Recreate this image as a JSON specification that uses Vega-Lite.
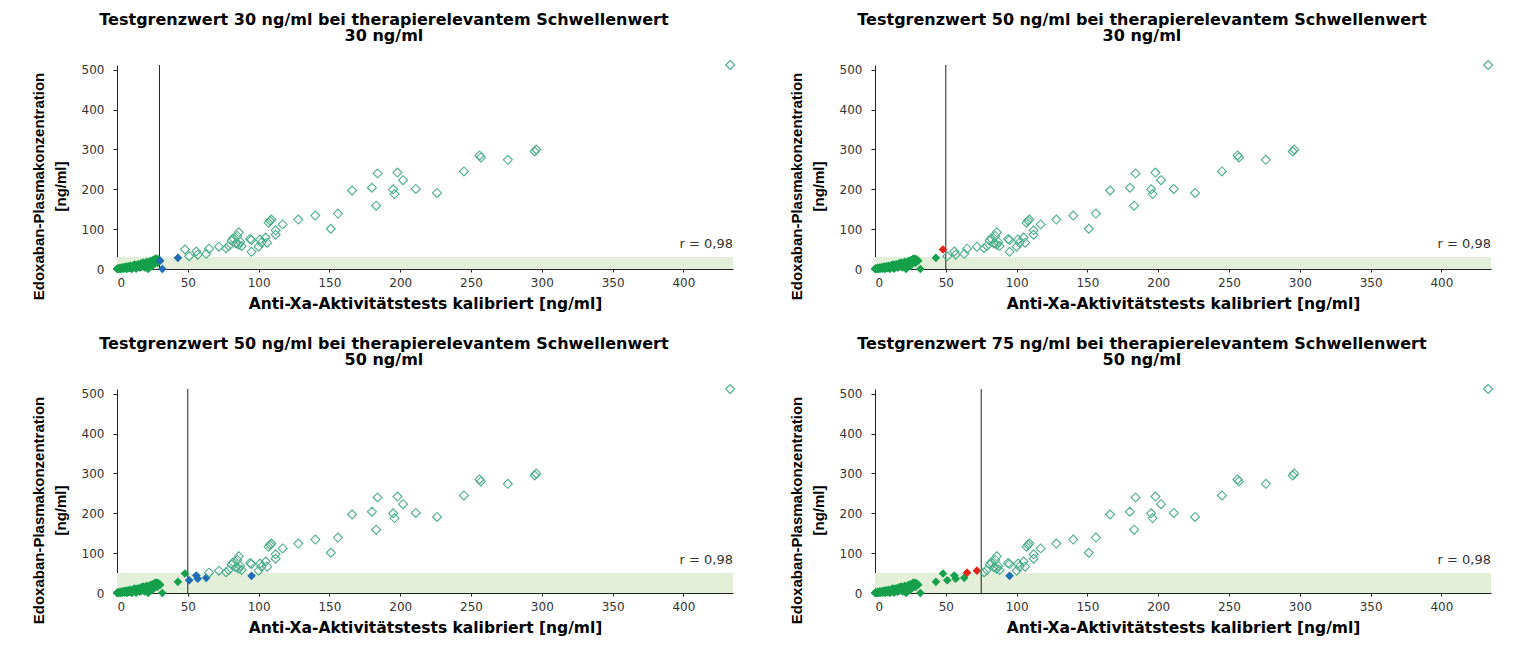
{
  "$schema": "https://vega.github.io/schema/vega-lite/v6.json",
  "background": "white",
  "padding": {"left": 31, "top": 12, "right": 5, "bottom": 5},
  "datasets": {
    "pts": [
      {"x":0,"y":0},{"x":0.5,"y":2},{"x":1,"y":0},{"x":1.5,"y":1},{"x":2,"y":3},{"x":2.5,"y":0},{"x":3,"y":1.5},{"x":3.5,"y":4},{"x":4,"y":0.5},{"x":4.5,"y":2.5},
      {"x":5,"y":5},{"x":5.5,"y":1},{"x":6,"y":3},{"x":6.5,"y":6},{"x":7,"y":0},{"x":7.5,"y":4},{"x":8,"y":7},{"x":8.5,"y":2},{"x":9,"y":5},{"x":9.5,"y":8},
      {"x":10,"y":3},{"x":10.5,"y":0},{"x":11,"y":6},{"x":11.5,"y":9},{"x":12,"y":4},{"x":12.5,"y":11},{"x":13,"y":7},{"x":13.5,"y":1},{"x":14,"y":10},{"x":14.5,"y":5},
      {"x":15,"y":12},{"x":15.5,"y":8},{"x":16,"y":3},{"x":16.5,"y":11},{"x":17,"y":14},{"x":17.5,"y":6},{"x":18,"y":10},{"x":18.5,"y":16},{"x":19,"y":12},{"x":19.5,"y":4},
      {"x":20,"y":15},{"x":20.5,"y":9},{"x":21,"y":18},{"x":21.5,"y":13},{"x":22,"y":0},{"x":22.5,"y":16},{"x":23,"y":11},{"x":23.5,"y":20},{"x":24,"y":15},{"x":24.5,"y":7},
      {"x":25,"y":22},{"x":25.5,"y":18},{"x":26,"y":12},{"x":26.5,"y":24},{"x":27,"y":19},{"x":27.5,"y":26},{"x":28,"y":22},{"x":28.5,"y":15},{"x":29,"y":25},{"x":29.5,"y":20},
      {"x":30.5,"y":21},{"x":32,"y":0},{"x":43,"y":28},{"x":48,"y":49},{"x":51,"y":32},{"x":56,"y":44},{"x":57,"y":36},{"x":63,"y":38},{"x":65,"y":51},{"x":72,"y":56},{"x":95,"y":43},
      {"x":77,"y":52},{"x":79,"y":58},{"x":81,"y":71},{"x":82,"y":77},{"x":84,"y":64},{"x":85,"y":83},{"x":86,"y":61},{"x":86,"y":92},{"x":87,"y":68},{"x":88,"y":58},
      {"x":94,"y":75},{"x":95,"y":73},{"x":100,"y":56},{"x":101,"y":74},{"x":102,"y":66},{"x":105,"y":79},{"x":106,"y":66},{"x":107,"y":116},{"x":108,"y":121},{"x":109,"y":124},
      {"x":112,"y":86},{"x":112,"y":97},{"x":117,"y":112},{"x":128,"y":124},{"x":140,"y":134},{"x":151,"y":101},{"x":156,"y":139},{"x":166,"y":197},{"x":180,"y":204},{"x":183,"y":159},
      {"x":184,"y":240},{"x":195,"y":200},{"x":196,"y":188},{"x":198,"y":242},{"x":202,"y":223},{"x":211,"y":201},{"x":226,"y":191},{"x":245,"y":245},{"x":256,"y":285},{"x":257,"y":280},
      {"x":276,"y":274},{"x":295,"y":295},{"x":296,"y":300},{"x":433,"y":512}
    ]
  },
  "columns": 2,
  "spacing": {"row": 24, "column": 52},
  "concat": [
    {
      "width": 616, "height": 204,
      "title": {"text": ["Testgrenzwert 30 ng/ml bei therapierelevantem Schwellenwert", "30 ng/ml"]},
      "layer": [
        {"data": {"values": [{}]}, "mark": {"type": "rect", "color": "#e3efd9"},
         "encoding": {"x": {"datum": 0, "type": "quantitative", "scale": {"domain": [0, 435], "nice": false}}, "x2": {"datum": 435},
                      "y": {"datum": 0, "type": "quantitative", "scale": {"domain": [0, 512], "nice": false}}, "y2": {"datum": 30}}},
        {"data": {"values": [{}]}, "mark": {"type": "rule", "color": "#222", "strokeWidth": 1},
         "encoding": {"x": {"datum": 30, "type": "quantitative", "scale": {"domain": [0, 435], "nice": false}},
                      "y": {"datum": 0, "type": "quantitative", "scale": {"domain": [0, 512], "nice": false}}, "y2": {"datum": 512}}},
        {"data": {"name": "pts"},
         "mark": {"type": "point", "shape": "diamond", "filled": true, "opacity": 1, "strokeWidth": 1.1, "clip": false},
         "encoding": {
           "x": {"field": "x", "type": "quantitative", "scale": {"domain": [0, 435], "nice": false},
                 "axis": {"title": "Anti-Xa-Aktivitätstests  kalibriert [ng/ml]", "values": [0,25,50,75,100,125,150,175,200,225,250,275,300,325,350,375,400,425], "labelExpr": "datum.value % 50 === 0 ? datum.label : ''"}},
           "y": {"field": "y", "type": "quantitative", "scale": {"domain": [0, 512], "nice": false},
                 "axis": {"title": ["Edoxaban-Plasmakonzentration", "[ng/ml]"], "values": [0,50,100,150,200,250,300,350,400,450,500], "labelExpr": "datum.value % 100 === 0 ? datum.label : ''"}},
           "fill": {"condition": [{"test": "datum.x < 30 && datum.y < 30", "value": "#16a04c"}, {"test": "datum.x >= 30 && datum.y < 30", "value": "#1f6db4"}, {"test": "datum.x < 30 && datum.y >= 30", "value": "#e1251b"}], "value": "transparent"},
           "stroke": {"condition": [{"test": "datum.x < 30 && datum.y < 30", "value": "#16a04c"}, {"test": "datum.x >= 30 && datum.y < 30", "value": "#1f6db4"}, {"test": "datum.x < 30 && datum.y >= 30", "value": "#e1251b"}], "value": "#4aae88"},
           "size": {"condition": {"test": "datum.x >= 30 && datum.y >= 30", "value": 80}, "value": 50}
         }},
        {"data": {"values": [{}]}, "mark": {"type": "text", "text": "r = 0,98", "align": "right", "baseline": "bottom", "font": "DejaVu Sans", "fontSize": 13, "color": "#333"},
         "encoding": {"x": {"datum": 435, "type": "quantitative", "scale": {"domain": [0, 435], "nice": false}},
                      "y": {"datum": 45, "type": "quantitative", "scale": {"domain": [0, 512], "nice": false}}}}
      ]
    },
    {
      "width": 616, "height": 204,
      "title": {"text": ["Testgrenzwert 50 ng/ml bei therapierelevantem Schwellenwert", "30 ng/ml"]},
      "layer": [
        {"data": {"values": [{}]}, "mark": {"type": "rect", "color": "#e3efd9"},
         "encoding": {"x": {"datum": 0, "type": "quantitative", "scale": {"domain": [0, 435], "nice": false}}, "x2": {"datum": 435},
                      "y": {"datum": 0, "type": "quantitative", "scale": {"domain": [0, 512], "nice": false}}, "y2": {"datum": 30}}},
        {"data": {"values": [{}]}, "mark": {"type": "rule", "color": "#222", "strokeWidth": 1},
         "encoding": {"x": {"datum": 50, "type": "quantitative", "scale": {"domain": [0, 435], "nice": false}},
                      "y": {"datum": 0, "type": "quantitative", "scale": {"domain": [0, 512], "nice": false}}, "y2": {"datum": 512}}},
        {"data": {"name": "pts"},
         "mark": {"type": "point", "shape": "diamond", "filled": true, "opacity": 1, "strokeWidth": 1.1, "clip": false},
         "encoding": {
           "x": {"field": "x", "type": "quantitative", "scale": {"domain": [0, 435], "nice": false},
                 "axis": {"title": "Anti-Xa-Aktivitätstests  kalibriert [ng/ml]", "values": [0,25,50,75,100,125,150,175,200,225,250,275,300,325,350,375,400,425], "labelExpr": "datum.value % 50 === 0 ? datum.label : ''"}},
           "y": {"field": "y", "type": "quantitative", "scale": {"domain": [0, 512], "nice": false},
                 "axis": {"title": ["Edoxaban-Plasmakonzentration", "[ng/ml]"], "values": [0,50,100,150,200,250,300,350,400,450,500], "labelExpr": "datum.value % 100 === 0 ? datum.label : ''"}},
           "fill": {"condition": [{"test": "datum.x < 50 && datum.y < 30", "value": "#16a04c"}, {"test": "datum.x >= 50 && datum.y < 30", "value": "#1f6db4"}, {"test": "datum.x < 50 && datum.y >= 30", "value": "#e1251b"}], "value": "transparent"},
           "stroke": {"condition": [{"test": "datum.x < 50 && datum.y < 30", "value": "#16a04c"}, {"test": "datum.x >= 50 && datum.y < 30", "value": "#1f6db4"}, {"test": "datum.x < 50 && datum.y >= 30", "value": "#e1251b"}], "value": "#4aae88"},
           "size": {"condition": {"test": "datum.x >= 50 && datum.y >= 30", "value": 80}, "value": 50}
         }},
        {"data": {"values": [{}]}, "mark": {"type": "text", "text": "r = 0,98", "align": "right", "baseline": "bottom", "font": "DejaVu Sans", "fontSize": 13, "color": "#333"},
         "encoding": {"x": {"datum": 435, "type": "quantitative", "scale": {"domain": [0, 435], "nice": false}},
                      "y": {"datum": 45, "type": "quantitative", "scale": {"domain": [0, 512], "nice": false}}}}
      ]
    },
    {
      "width": 616, "height": 204,
      "title": {"text": ["Testgrenzwert 50 ng/ml bei therapierelevantem Schwellenwert", "50 ng/ml"]},
      "layer": [
        {"data": {"values": [{}]}, "mark": {"type": "rect", "color": "#e3efd9"},
         "encoding": {"x": {"datum": 0, "type": "quantitative", "scale": {"domain": [0, 435], "nice": false}}, "x2": {"datum": 435},
                      "y": {"datum": 0, "type": "quantitative", "scale": {"domain": [0, 512], "nice": false}}, "y2": {"datum": 50}}},
        {"data": {"values": [{}]}, "mark": {"type": "rule", "color": "#222", "strokeWidth": 1},
         "encoding": {"x": {"datum": 50, "type": "quantitative", "scale": {"domain": [0, 435], "nice": false}},
                      "y": {"datum": 0, "type": "quantitative", "scale": {"domain": [0, 512], "nice": false}}, "y2": {"datum": 512}}},
        {"data": {"name": "pts"},
         "mark": {"type": "point", "shape": "diamond", "filled": true, "opacity": 1, "strokeWidth": 1.1, "clip": false},
         "encoding": {
           "x": {"field": "x", "type": "quantitative", "scale": {"domain": [0, 435], "nice": false},
                 "axis": {"title": "Anti-Xa-Aktivitätstests  kalibriert [ng/ml]", "values": [0,25,50,75,100,125,150,175,200,225,250,275,300,325,350,375,400,425], "labelExpr": "datum.value % 50 === 0 ? datum.label : ''"}},
           "y": {"field": "y", "type": "quantitative", "scale": {"domain": [0, 512], "nice": false},
                 "axis": {"title": ["Edoxaban-Plasmakonzentration", "[ng/ml]"], "values": [0,50,100,150,200,250,300,350,400,450,500], "labelExpr": "datum.value % 100 === 0 ? datum.label : ''"}},
           "fill": {"condition": [{"test": "datum.x < 50 && datum.y < 50", "value": "#16a04c"}, {"test": "datum.x >= 50 && datum.y < 50", "value": "#1f6db4"}, {"test": "datum.x < 50 && datum.y >= 50", "value": "#e1251b"}], "value": "transparent"},
           "stroke": {"condition": [{"test": "datum.x < 50 && datum.y < 50", "value": "#16a04c"}, {"test": "datum.x >= 50 && datum.y < 50", "value": "#1f6db4"}, {"test": "datum.x < 50 && datum.y >= 50", "value": "#e1251b"}], "value": "#4aae88"},
           "size": {"condition": {"test": "datum.x >= 50 && datum.y >= 50", "value": 80}, "value": 50}
         }},
        {"data": {"values": [{}]}, "mark": {"type": "text", "text": "r = 0,98", "align": "right", "baseline": "bottom", "font": "DejaVu Sans", "fontSize": 13, "color": "#333"},
         "encoding": {"x": {"datum": 435, "type": "quantitative", "scale": {"domain": [0, 435], "nice": false}},
                      "y": {"datum": 65, "type": "quantitative", "scale": {"domain": [0, 512], "nice": false}}}}
      ]
    },
    {
      "width": 616, "height": 204,
      "title": {"text": ["Testgrenzwert 75 ng/ml bei therapierelevantem Schwellenwert", "50 ng/ml"]},
      "layer": [
        {"data": {"values": [{}]}, "mark": {"type": "rect", "color": "#e3efd9"},
         "encoding": {"x": {"datum": 0, "type": "quantitative", "scale": {"domain": [0, 435], "nice": false}}, "x2": {"datum": 435},
                      "y": {"datum": 0, "type": "quantitative", "scale": {"domain": [0, 512], "nice": false}}, "y2": {"datum": 50}}},
        {"data": {"values": [{}]}, "mark": {"type": "rule", "color": "#222", "strokeWidth": 1},
         "encoding": {"x": {"datum": 75, "type": "quantitative", "scale": {"domain": [0, 435], "nice": false}},
                      "y": {"datum": 0, "type": "quantitative", "scale": {"domain": [0, 512], "nice": false}}, "y2": {"datum": 512}}},
        {"data": {"name": "pts"},
         "mark": {"type": "point", "shape": "diamond", "filled": true, "opacity": 1, "strokeWidth": 1.1, "clip": false},
         "encoding": {
           "x": {"field": "x", "type": "quantitative", "scale": {"domain": [0, 435], "nice": false},
                 "axis": {"title": "Anti-Xa-Aktivitätstests  kalibriert [ng/ml]", "values": [0,25,50,75,100,125,150,175,200,225,250,275,300,325,350,375,400,425], "labelExpr": "datum.value % 50 === 0 ? datum.label : ''"}},
           "y": {"field": "y", "type": "quantitative", "scale": {"domain": [0, 512], "nice": false},
                 "axis": {"title": ["Edoxaban-Plasmakonzentration", "[ng/ml]"], "values": [0,50,100,150,200,250,300,350,400,450,500], "labelExpr": "datum.value % 100 === 0 ? datum.label : ''"}},
           "fill": {"condition": [{"test": "datum.x < 75 && datum.y < 50", "value": "#16a04c"}, {"test": "datum.x >= 75 && datum.y < 50", "value": "#1f6db4"}, {"test": "datum.x < 75 && datum.y >= 50", "value": "#e1251b"}], "value": "transparent"},
           "stroke": {"condition": [{"test": "datum.x < 75 && datum.y < 50", "value": "#16a04c"}, {"test": "datum.x >= 75 && datum.y < 50", "value": "#1f6db4"}, {"test": "datum.x < 75 && datum.y >= 50", "value": "#e1251b"}], "value": "#4aae88"},
           "size": {"condition": {"test": "datum.x >= 75 && datum.y >= 50", "value": 80}, "value": 50}
         }},
        {"data": {"values": [{}]}, "mark": {"type": "text", "text": "r = 0,98", "align": "right", "baseline": "bottom", "font": "DejaVu Sans", "fontSize": 13, "color": "#333"},
         "encoding": {"x": {"datum": 435, "type": "quantitative", "scale": {"domain": [0, 435], "nice": false}},
                      "y": {"datum": 65, "type": "quantitative", "scale": {"domain": [0, 512], "nice": false}}}}
      ]
    }
  ],
  "config": {
    "view": {"stroke": null},
    "axis": {"grid": false, "domainColor": "#222", "tickColor": "#222", "labelFont": "DejaVu Sans", "labelFontSize": 12, "labelColor": "#333", "titleColor": "#000", "titleFontWeight": "bold"},
    "axisX": {"tickSize": 3, "labelPadding": 5, "titleFont": "DejaVu Sans", "titleFontSize": 15.5, "titlePadding": 8},
    "axisY": {"tickSize": 4, "labelPadding": 9, "titleFont": "Liberation Sans", "titleFontSize": 15, "titleLineHeight": 22, "titlePadding": 13, "titleY": 121},
    "title": {"font": "DejaVu Sans", "fontSize": 16, "fontWeight": "bold", "color": "#000", "anchor": "middle", "frame": "bounds", "lineHeight": 16, "offset": 14}
  }
}
